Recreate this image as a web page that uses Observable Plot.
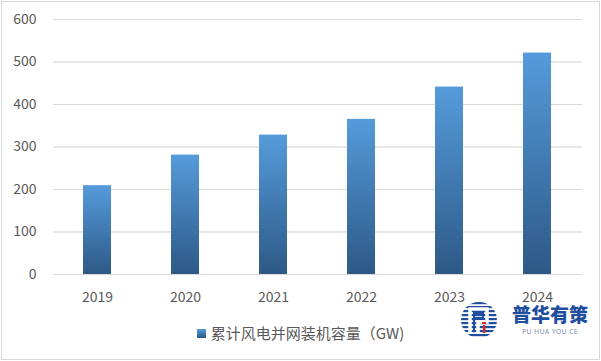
<!DOCTYPE html>
<html>
<head>
<meta charset="utf-8">
<script src="https://cdn.jsdelivr.net/npm/d3@7"></script>
<script src="https://cdn.jsdelivr.net/npm/@observablehq/plot@0.6"></script>
<style>
  body { margin: 0; background: #fff; }
  #wrap { position: relative; width: 601px; height: 361px; overflow: hidden; font-family: "Noto Sans CJK SC", sans-serif; }
  #border { position: absolute; left: 1px; top: 1px; width: 599px; height: 359px; border: 1px solid #d9d9d9; box-sizing: border-box; pointer-events: none; }
  #legend { position: absolute; left: 0; top: 323px; width: 601px; text-align: center; font-size: 15px; color: #595959; line-height: 20px; }
  #legend .sw { display: inline-block; width: 9px; height: 9px; margin-right: 5px; vertical-align: 1px; background: linear-gradient(#559bdb, #2d5986); }
  #logo { position: absolute; left: 458px; top: 292px; overflow: visible; }
</style>
</head>
<body>
<div id="wrap">
  <div id="chart"></div>
  <div id="legend"><span class="sw"></span>累计风电并网装机容量（GW)</div>
  <svg id="logo" width="142" height="60" viewBox="0 0 142 60">
    <defs>
      <clipPath id="lc"><circle cx="21" cy="28" r="18"/></clipPath>
    </defs>
    <g clip-path="url(#lc)" fill="#1f4e9e">
      <rect x="0" y="10" width="42" height="2.2"/>
      <rect x="0" y="14" width="42" height="2.2"/>
      <rect x="0" y="18" width="42" height="2.2"/>
      <rect x="0" y="22" width="42" height="2.2"/>
      <rect x="0" y="26" width="42" height="2.2"/>
      <rect x="0" y="30" width="42" height="2.2"/>
      <rect x="0" y="34" width="42" height="2.2"/>
      <rect x="0" y="38" width="42" height="2.2"/>
      <rect x="0" y="42" width="42" height="2.2"/>
    </g>
    <path d="M12 42 V17 H29 V30 H20 V42" fill="none" stroke="#fff" stroke-width="3.5"/>
    <path d="M16 40 V21 H25 V26 H17" fill="none" stroke="#1f4e9e" stroke-width="2"/>
    <rect x="25" y="33" width="2.5" height="8" fill="#d9262b"/>
    <rect x="24" y="30" width="4" height="2" fill="#d9262b"/>
    <text x="92" y="30" text-anchor="middle" font-family="Noto Sans CJK SC" font-weight="900" font-size="19" fill="#1f4e9e">普华有策</text>
    <text x="92" y="42" text-anchor="middle" font-family="Noto Sans, sans-serif" font-size="7" fill="#7d8fb0" letter-spacing="0.3">PU HUA YOU CE</text>
  </svg>
  <div id="border"></div>
</div>
<script>
const years = ["2019", "2020", "2021", "2022", "2023", "2024"];
const capacity = [209, 281, 328, 365, 441, 521];
const yTicks = [0, 100, 200, 300, 400, 500, 600];

const data = years.map((year, i) => ({year, value: capacity[i]}));

const chart = Plot.plot({
  width: 601,
  height: 315,
  marginTop: 19,
  marginBottom: 41,
  marginLeft: 53,
  marginRight: 19,
  style: {fontFamily: "Noto Sans CJK SC, sans-serif", fontSize: "14px", color: "#595959", background: "transparent", overflow: "visible"},
  x: {domain: years, paddingInner: 0.68, paddingOuter: 0.34, label: null, tickSize: 0, tickPadding: 18},
  y: {domain: [0, 600], ticks: yTicks, label: null, tickSize: 0, tickPadding: 17, grid: true},
  marks: [
    Plot.gridY(yTicks, {stroke: "#d9d9d9", strokeOpacity: 1}),
    Plot.barY(data, {x: "year", y: "value", fill: "url(#barGrad)"}),
    Plot.axisY(yTicks, {tickSize: 0, tickPadding: 17, fill: "#595959", fontSize: 14}),
    Plot.axisX({tickSize: 0, tickPadding: 18, fill: "#595959", fontSize: 14})
  ]
});

const defs = d3.select(chart).insert("defs", ":first-child");
const g = defs.append("linearGradient").attr("id", "barGrad").attr("x1", 0).attr("y1", 0).attr("x2", 0).attr("y2", 1);
g.append("stop").attr("offset", "0%").attr("stop-color", "#559bdb");
g.append("stop").attr("offset", "100%").attr("stop-color", "#2d5986");

document.getElementById("chart").appendChild(chart);
</script>
</body>
</html>
